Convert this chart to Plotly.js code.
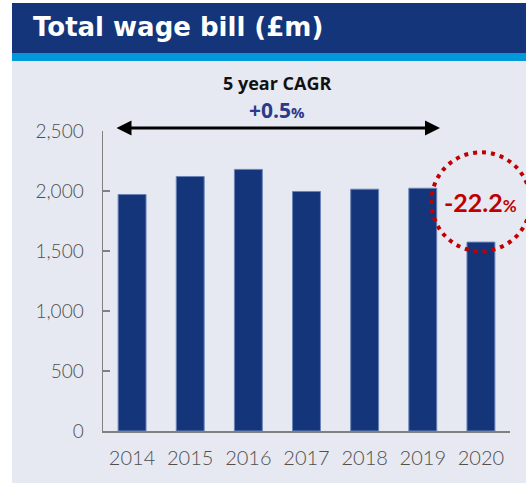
<!DOCTYPE html>
<html>
<head>
<meta charset="utf-8">
<script src="https://cdn.plot.ly/plotly-3.0.1.min.js"></script>
<style>html,body{margin:0;padding:0;background:#fff;}#chart{width:526px;height:483px;}</style>
</head>
<body>
<div id="chart"></div>
<script>
// ---- data ----
const years = ['2014', '2015', '2016', '2017', '2018', '2019', '2020'];
const wageBill = [1971, 2121, 2180, 1996, 2015, 2023, 1574];
const yTickVals = [0, 500, 1000, 1500, 2000, 2500];
const yTickText = ['0', '500', '1,000', '1,500', '2,000', '2,500'];
const chartTitle = 'Total wage bill (£m)';
const cagrTitle = '5 year CAGR';
const cagrValue = '+0.5';
const changeValue = '-22.2';

// ---- layout helpers ----
const W = 526, H = 483;
const M = {l: 103, r: 16, t: 131, b: 52, pad: 0};
const PW = W - M.l - M.r, PH = H - M.t - M.b;
const yMax = 2500;
const px = v => (v - M.l) / PW;          // container px -> paper x
const py = v => (H - M.b - v) / PH;      // container px -> paper y
const catPaper = i => (i + 0.5) / years.length;

const navy = '#14357A';
const cyan = '#0199D9';
const bg = '#E6E9F1';
const red = '#C00000';
const cagrBlue = '#2B3A8C';
const font = 'Lato, "Noto Sans", sans-serif';
const boldFont = '"Open Sans", "Noto Sans", sans-serif';
const titleFont = '"DejaVu Sans", "Open Sans", sans-serif';

const trace = {
  type: 'bar',
  x: years,
  y: wageBill,
  marker: {color: navy, line: {color: '#6A84B8', width: 1}},
  hoverinfo: 'skip'
};

const lastIdx = years.length - 1;

const layout = {
  width: W, height: H,
  margin: M,
  paper_bgcolor: '#FFFFFF',
  plot_bgcolor: bg,
  showlegend: false,
  bargap: 0.52,
  title: {
    text: '<b>' + chartTitle + '</b>',
    font: {family: titleFont, size: 26, color: '#FFFFFF'},
    xref: 'container', yref: 'container',
    x: 33 / W, xanchor: 'left',
    y: 1 - 27 / H, yanchor: 'middle'
  },
  xaxis: {
    type: 'category',
    range: [-0.5, years.length - 0.5],
    showline: true, linecolor: '#808080', linewidth: 1.5,
    ticks: '', showgrid: false, zeroline: false,
    tickfont: {family: font, size: 20, color: '#4F4F4F', weight: 300},
    ticklabelstandoff: 8
  },
  yaxis: {
    range: [0, yMax],
    tickvals: yTickVals, ticktext: yTickText,
    showline: true, linecolor: '#808080', linewidth: 1.5,
    ticks: 'inside', ticklen: 7, tickwidth: 1.5, tickcolor: '#808080',
    showgrid: false, zeroline: false,
    tickfont: {family: font, size: 19, color: '#4F4F4F', weight: 300},
    ticklabelstandoff: 14
  },
  shapes: [
    {type: 'rect', xref: 'paper', yref: 'paper', layer: 'below',
     x0: px(12), x1: px(W), y0: py(H), y1: py(61), fillcolor: bg, line: {width: 0}},
    {type: 'rect', xref: 'paper', yref: 'paper', layer: 'below',
     x0: px(12), x1: px(W), y0: py(53), y1: py(3), fillcolor: navy, line: {width: 0}},
    {type: 'rect', xref: 'paper', yref: 'paper', layer: 'below',
     x0: px(12), x1: px(W), y0: py(61), y1: py(53), fillcolor: cyan, line: {width: 0}},
    {type: 'circle', xref: 'paper', yref: 'paper', layer: 'above',
     xsizemode: 'pixel', xanchor: catPaper(lastIdx), x0: -49.5, x1: 49.5,
     ysizemode: 'pixel', yanchor: 1910 / yMax, y0: -49.5, y1: 49.5,
     line: {color: red, width: 4, dash: '4px,5px'}, fillcolor: 'rgba(0,0,0,0)'}
  ],
  annotations: [
    {xref: 'paper', yref: 'paper', axref: 'pixel', ayref: 'pixel',
     x: px(440), y: py(128), ax: -(440 - 115), ay: 0,
     text: '', showarrow: true, arrowside: 'end+start',
     arrowhead: 2, startarrowhead: 2, arrowsize: 1, startarrowsize: 1,
     arrowwidth: 3, arrowcolor: '#000000', standoff: 0, startstandoff: 0},
    {xref: 'paper', yref: 'paper', x: px(277), y: py(82.5), xanchor: 'center', yanchor: 'middle',
     text: '<b>' + cagrTitle + '</b>', showarrow: false, borderpad: 0,
     font: {family: boldFont, size: 18, color: '#111111'}},
    {xref: 'paper', yref: 'paper', x: px(277), y: py(110), xanchor: 'center', yanchor: 'middle',
     text: '<b>' + cagrValue + '<span style="font-size:15px">%</span></b>', showarrow: false, borderpad: 0,
     font: {family: boldFont, size: 21, color: cagrBlue}},
    {xref: 'x', yref: 'y', x: lastIdx, y: 1910, xanchor: 'center', yanchor: 'middle',
     text: '<b>' + changeValue + '<span style="font-size:17px">%</span></b>', showarrow: false,
     font: {family: font, size: 25, color: red}}
  ]
};

Plotly.newPlot('chart', [trace], layout, {staticPlot: true, displayModeBar: false});
</script>
</body>
</html>
